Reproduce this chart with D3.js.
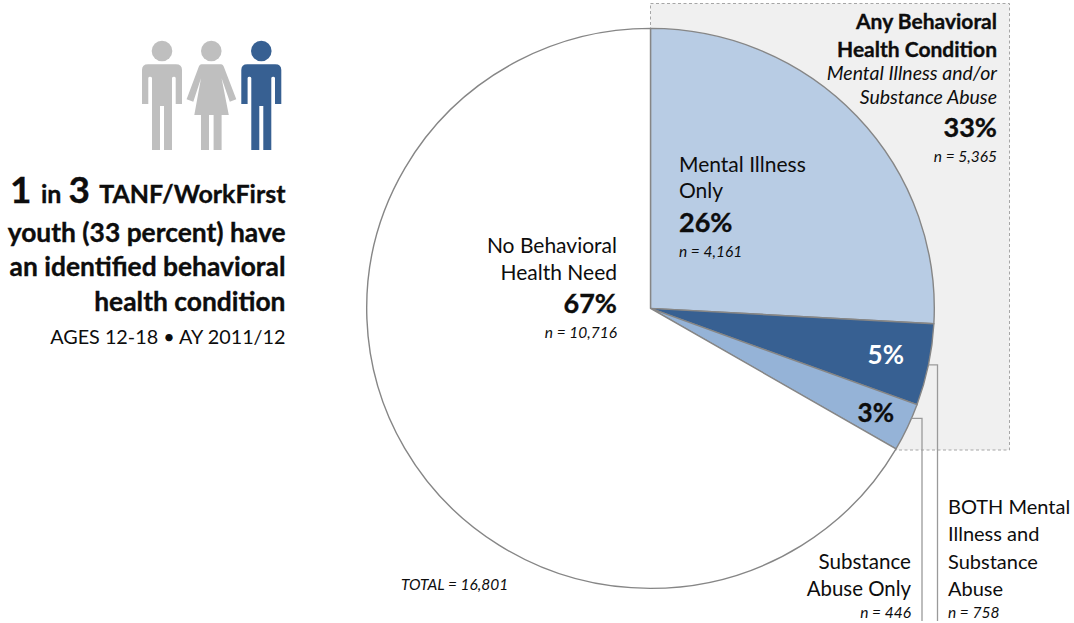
<!DOCTYPE html>
<html>
<head>
<meta charset="utf-8">
<script src="https://cdn.jsdelivr.net/npm/d3@7"></script>
<style>
  html, body { margin: 0; padding: 0; background: #fff; }
  svg { display: block; }
  text { font-family: Lato, "Open Sans", sans-serif; fill: #0d0d0d; }
  text.strong { stroke: #0d0d0d; stroke-width: 0.35px; }
</style>
</head>
<body>
<div id="chart"></div>
<script>
// Youth counts per behavioral health group, in clockwise order from 12 o'clock
const groups = ["Mental Illness Only", "Both", "Substance Abuse Only", "No Behavioral Health Need"];
const counts = [4161, 758, 446, 10716];
const sliceColors = ["#b8cce4", "#376092", "#95b3d7", "#ffffff"];
const leaderAnchors = [null, 0.5, 0.3, null];

const headline = ["youth (33 percent) have", "an identified behavioral", "health condition"];
const subhead = "AGES 12-18 \u2022 AY 2011/12";

const width = 1074, height = 623;
// The pie is very slightly flattened vertically
const cx = 650.5, cy = 308.4, radius = 283.8, flatten = 280 / 283.8;

const svg = d3.select("#chart").append("svg")
  .attr("width", width).attr("height", height);

// Helper for a single positioned text line
function label(str, x, y, size, opts = {}) {
  return svg.append("text")
    .attr("class", opts.bold && !opts.fill ? "strong" : null)
    .attr("x", x).attr("y", y)
    .attr("font-size", size)
    .attr("font-weight", opts.bold ? 700 : 400)
    .attr("font-style", opts.italic ? "italic" : "normal")
    .attr("text-anchor", opts.anchor || "start")
    .style("fill", opts.fill || null)
    .text(str);
}

// Shaded panel behind the "any condition" quadrant
svg.append("rect")
  .attr("x", 650.5).attr("y", 3.5).attr("width", 359).attr("height", 446.5)
  .attr("fill", "#f0f0f0").attr("stroke", "#a6a6a6")
  .attr("stroke-width", 1).attr("stroke-dasharray", "3 2.5");

// Pie
const pie = d3.pie().sort(null).value(d => d);
const arcs = pie(counts);
const arc = d3.arc().innerRadius(0).outerRadius(radius);
const plot = svg.append("g").attr("transform", `translate(${cx},${cy}) scale(1,${flatten})`);

// Leader lines run from the rim of the small slices down to the bottom edge
const leaderX = [null, 937.5, 922, null];
arcs.forEach((a, i) => {
  if (leaderAnchors[i] === null) return;
  const t = a.startAngle + (a.endAngle - a.startAngle) * leaderAnchors[i];
  const px = cx + radius * Math.sin(t), py = cy - radius * flatten * Math.cos(t);
  svg.append("path")
    .attr("d", d3.line()([[px, py], [leaderX[i], py], [leaderX[i], 621]]))
    .attr("fill", "none").attr("stroke", "#9a9a9a").attr("stroke-width", 1.3);
});

plot.selectAll("path.slice").data(arcs).join("path")
  .attr("class", "slice")
  .attr("d", arc)
  .attr("fill", (d, i) => sliceColors[i])
  .attr("stroke", "#868686")
  .attr("stroke-width", 1.4)
  .attr("stroke-linejoin", "round");

// Pictogram: two grey figures and one highlighted
const manBody = "M-20,19 Q-20,13.3 -14,13.3 L14,13.3 Q20,13.3 20,19 L20,53 L13.7,53 L13.7,27 Q13.5,25.7 12,25.7 Q10.2,25.7 10,27 L10,99 L2,99 L2,55 L-2,55 L-2,99 L-10,99 L-10,27 Q-10.2,25.7 -12,25.7 Q-13.5,25.7 -13.7,27 L-13.7,53 L-20,53 Z";
const womanBody = "M-9.7,13.3 Q-12,13.5 -13,17 L-24.7,48.3 L-18,50.7 L-10.3,27.3 L-17,64 L-10.3,64 L-10.3,99 L-2.3,99 L-2.3,64 L2.3,64 L2.3,99 L10.3,99 L10.3,64 L17.5,64 L10.3,27.3 L18.5,50.7 L25,48.3 L13,17 Q12,13.5 9.7,13.3 Z";
const figures = [
  { x: 162, body: manBody, color: "#bfbfbf" },
  { x: 211.3, body: womanBody, color: "#bfbfbf" },
  { x: 261.3, body: manBody, color: "#376092" }
];
const people = svg.selectAll("g.person").data(figures).join("g")
  .attr("class", "person")
  .attr("transform", d => `translate(${d.x},51)`)
  .attr("fill", d => d.color);
people.append("circle").attr("r", 10.3);
people.append("path").attr("d", d => d.body);

// Headline block
label("1", 10, 203, 37, { bold: true });
label("in", 41, 203, 25, { bold: true });
label("3", 68.5, 203, 37, { bold: true });
label("TANF/WorkFirst", 285.5, 203, 25, { bold: true, anchor: "end" });
headline.forEach((t, i) => label(t, 285.5, [241.5, 275.5, 310.5][i], 26.4, { bold: true, anchor: "end" }));
label(subhead, 285.5, 344, 19.8, { anchor: "end" });

// Panel annotation
label("Any Behavioral", 997, 29, 21, { bold: true, anchor: "end" });
label("Health Condition", 997, 56.5, 21, { bold: true, anchor: "end" });
label("Mental Illness and/or", 997, 80, 19.5, { italic: true, anchor: "end" });
label("Substance Abuse", 997, 104, 19.5, { italic: true, anchor: "end" });
label("33%", 997, 137, 27, { bold: true, anchor: "end" });
label("n = 5,365", 997, 162, 15.5, { italic: true, anchor: "end" });

// Slice annotations
label("Mental Illness", 679, 172, 21);
label("Only", 679, 198, 21);
label("26%", 679, 232, 27, { bold: true });
label("n = 4,161", 679, 257, 15.5, { italic: true });

label("No Behavioral", 617, 253, 21, { anchor: "end" });
label("Health Need", 617, 280, 21, { anchor: "end" });
label("67%", 617, 313, 27, { bold: true, anchor: "end" });
label("n = 10,716", 617, 338, 15.5, { italic: true, anchor: "end" });

label("5%", 904, 364, 26, { bold: true, anchor: "end", fill: "#ffffff" });
label("3%", 894, 422, 26, { bold: true, anchor: "end" });

label("Substance", 911, 568.5, 20.6, { anchor: "end" });
label("Abuse Only", 911, 595.5, 20.4, { anchor: "end" });
label("n = 446", 911, 618, 15.5, { italic: true, anchor: "end" });

["BOTH Mental", "Illness and", "Substance", "Abuse"].forEach((t, i) =>
  label(t, 948, 514 + i * 27.3, 20));
label("n = 758", 948, 618, 15.5, { italic: true });

label("TOTAL = 16,801", 401, 590, 15.5, { italic: true });
</script>
</body>
</html>
